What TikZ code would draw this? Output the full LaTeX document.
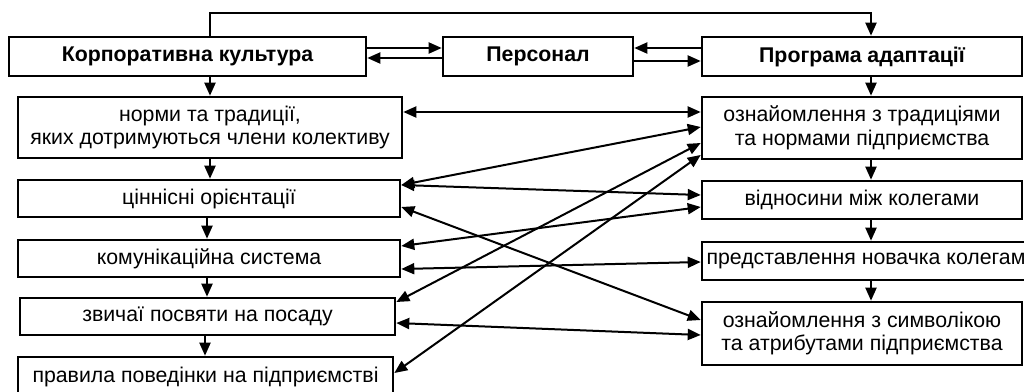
\documentclass[tikz,border=0pt]{standalone}
\usepackage{fontspec}
\setmainfont{Liberation Sans}
\usetikzlibrary{arrows.meta}
\begin{document}
\begin{tikzpicture}[x=1pt,y=-1pt,
  box/.style={draw,line width=2.6pt,rectangle,inner sep=0pt,align=center,
    font=\fontsize{21.3}{23.5}\selectfont},
  bbox/.style={box,font=\fontsize{21.3}{23.5}\selectfont\bfseries},
  con/.style={line width=2pt,-{Triangle[length=13pt,width=11pt]}},
  dcon/.style={line width=2pt,{Triangle[length=13pt,width=11pt]}-{Triangle[length=13pt,width=11pt]}}]
\fill[white] (0,0) rectangle (1024,391);
\useasboundingbox (0,0) rectangle (1024,391);
% top row
\node[bbox,minimum width=357pt,minimum height=39pt] (kk) at (187.5,56.5) {Корпоративна культура};
\node[bbox,minimum width=190pt,minimum height=39pt] (pers) at (538,56.5) {Персонал};
\node[bbox,minimum width=320pt,minimum height=39pt] (prog) at (862,56.5) {Програма адаптації};
% left column
\node[box,minimum width=384pt,minimum height=61pt] (norm) at (210,127.5) {норми та традиції,\\яких дотримуються члени колективу};
\node[box,minimum width=382pt,minimum height=37pt] (cin) at (209,198.5) {ціннісні орієнтації};
\node[box,minimum width=382pt,minimum height=37pt] (kom) at (209,258.5) {комунікаційна система};
\node[box,minimum width=375pt,minimum height=37pt] (zv) at (207.5,316.5) {звичаї посвяти на посаду};
\node[box,minimum width=375pt,minimum height=39pt] (prav) at (205.5,376.5) {правила поведінки на підприємстві};
% right column
\node[box,minimum width=320pt,minimum height=62pt] (trad) at (862,128) {ознайомлення з традиціями\\та нормами підприємства};
\node[box,minimum width=320pt,minimum height=38pt] (vid) at (862,200) {відносини між колегами};
\node[box,minimum width=328pt,minimum height=38pt] (pred) at (866,261) {представлення новачка колегам};
\node[box,minimum width=320pt,minimum height=63pt] (sym) at (862,333.5) {ознайомлення з символікою\\та атрибутами підприємства};
% top connector
\coordinate (c1) at (210,13);
\coordinate (c2) at (871,13);
\draw[con] (kk.north -| c1) -- (c1) -- (c2) -- (prog.north -| c2);
% horizontal pairs
\draw[con] (kk.east |- 0,48) -- (pers.west |- 0,48);
\draw[con] (pers.west |- 0,58) -- (kk.east |- 0,58);
\draw[con] (prog.west |- 0,48) -- (pers.east |- 0,48);
\draw[con] (pers.east |- 0,61) -- (prog.west |- 0,61);
% vertical chains
\draw[con] (kk.south -| 210,0) -- (norm.north -| 210,0);
\draw[con] (norm.south -| 210,0) -- (cin.north -| 210,0);
\draw[con] (cin.south -| 207,0) -- (kom.north -| 207,0);
\draw[con] (kom.south -| 207,0) -- (zv.north -| 207,0);
\draw[con] (zv.south -| 205,0) -- (prav.north -| 205,0);
\draw[con] (prog.south -| 871,0) -- (trad.north -| 871,0);
\draw[con] (trad.south -| 871,0) -- (vid.north -| 871,0);
\draw[con] (vid.south -| 871,0) -- (pred.north -| 871,0);
\draw[con] (pred.south -| 871,0) -- (sym.north -| 871,0);
% cross connectors
\draw[dcon] (norm.east |- 0,112) -- (trad.west |- 0,112);
\draw[dcon] (cin.east |- 0,185) -- (trad.west |- 0,127);
\draw[dcon] (cin.east |- 0,185) -- (vid.west |- 0,195);
\draw[dcon] (cin.east |- 0,207) -- (sym.west |- 0,320);
\draw[dcon] (kom.east |- 0,246) -- (vid.west |- 0,207);
\draw[dcon] (kom.east |- 0,269) -- (pred.west |- 0,262);
\draw[dcon] (zv.east |- 0,302) -- (trad.west |- 0,143);
\draw[dcon] (zv.east |- 0,323) -- (sym.west |- 0,335);
\draw[dcon] (prav.east |- 0,373) -- (trad.west |- 0,155);
\end{tikzpicture}
\end{document}
